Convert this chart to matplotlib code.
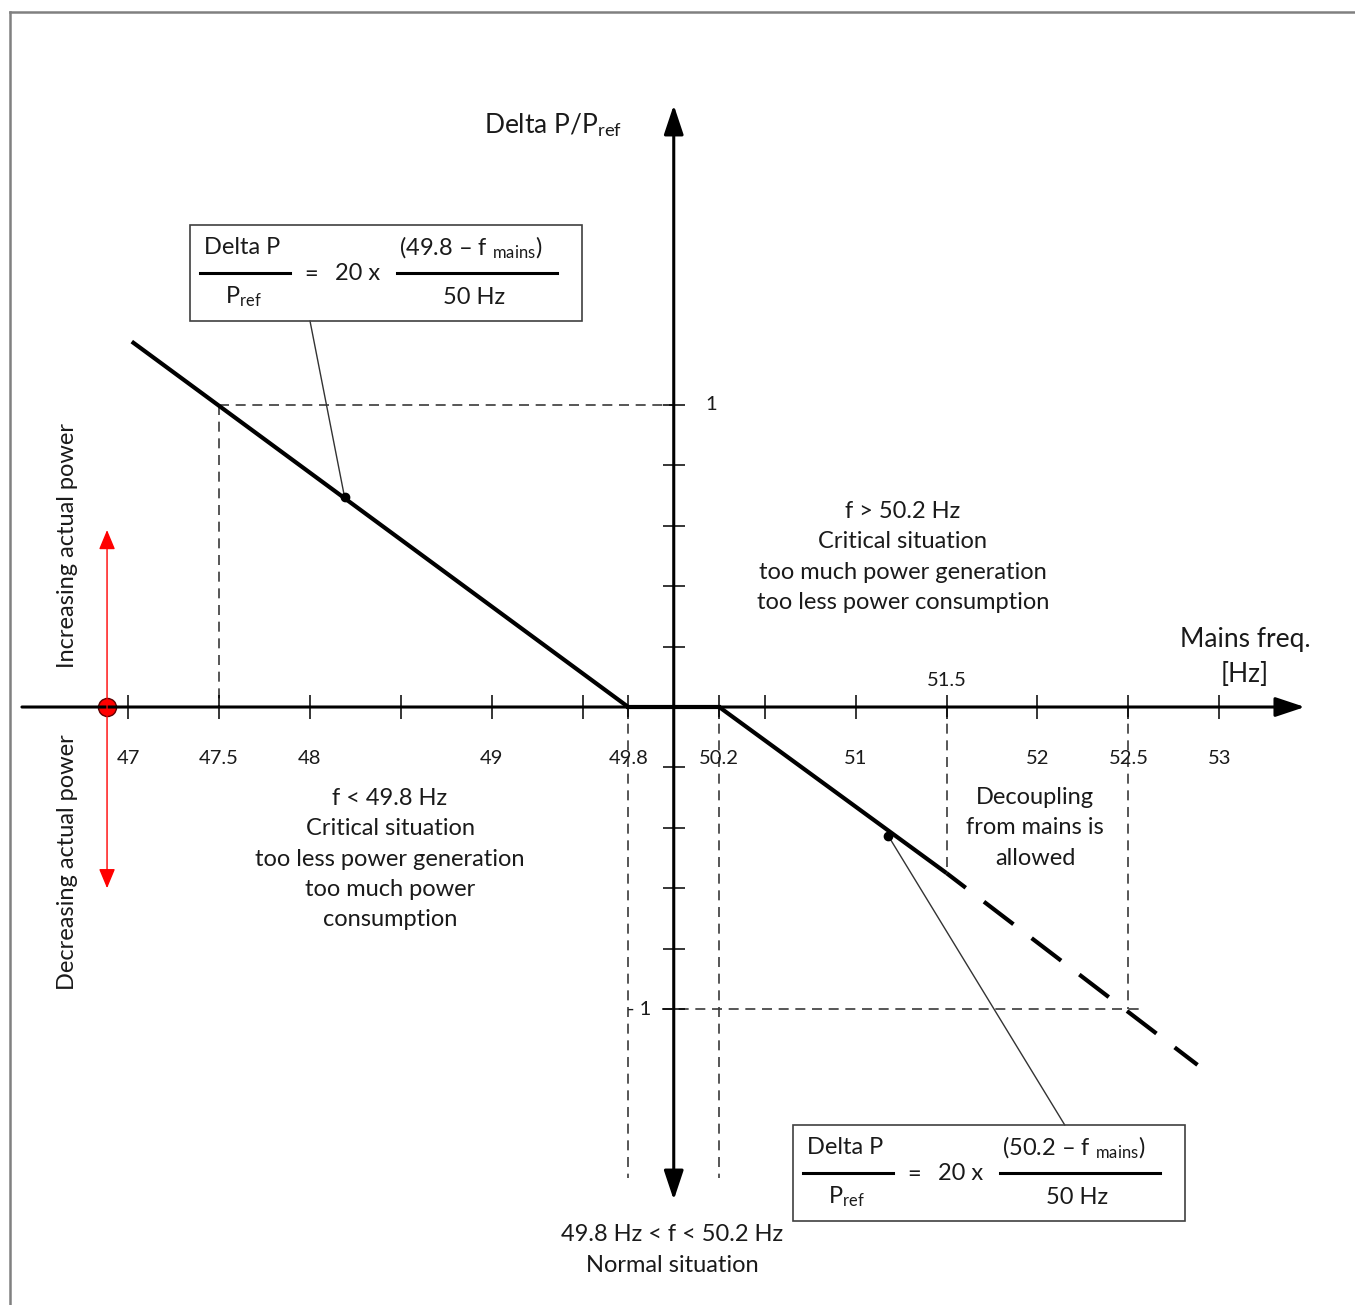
import numpy as np
import matplotlib
matplotlib.use('Agg')
import matplotlib.pyplot as plt
from matplotlib.lines import Line2D
from matplotlib.patches import Rectangle

plt.rcParams['font.family'] = ['Lato', 'DejaVu Sans']
plt.rcParams['mathtext.fontset'] = 'custom'
plt.rcParams['mathtext.rm'] = 'Lato'
plt.rcParams['mathtext.it'] = 'Lato:italic'

# characteristic: mains frequency [Hz] -> Delta P / P_ref
f_under = [47.02, 49.8]
p_under = [1.21, 0.0]
f_normal = [49.8, 50.2]
p_normal = [0.0, 0.0]
f_over = [50.2, 51.5]
p_over = [0.0, -0.55]
f_decouple = [51.5, 52.88]
p_decouple = [-0.55, -1.185]

# points that the formula boxes point at
dot_f = [48.19, 51.18]
dot_p = [0.695, -0.427]
callout_f = [48.0, 52.15]
callout_p = [1.278, -1.384]

# axis ticks
xtick_pos = [47, 47.5, 48, 48.5, 49, 49.5, 49.8, 50.2, 50.5, 51, 51.5, 52, 52.5, 53]
xtick_lab_below = [47, 47.5, 48, 49, 49.8, 50.2, 51, 52, 52.5, 53]
xtick_lab_above = [51.5]
ytick_pos = [-1, -0.8, -0.6, -0.4, -0.2, 0.2, 0.4, 0.6, 0.8, 1]

# dashed guide lines (f0, f1), (p0, p1)
guide_f = [(47.5, 50.0), (47.5, 47.5), (49.8, 49.8), (50.2, 50.2),
           (51.5, 51.5), (52.5, 52.5), (49.95, 52.57)]
guide_p = [(1, 1), (1, 0), (0, -1.56), (0, -1.56),
           (0, -0.55), (0, -1.0), (-1, -1)]

# the drawing stretches the band 49.5 .. 50.5 Hz a little
knots_f = [40, 49.5, 49.8, 50, 50.2, 50.5, 60]
knots_u = [40, 49.5, 49.75, 50, 50.25, 50.5, 60]

W, H = 1355, 1305
fig = plt.figure(figsize=(W / 100, H / 100), dpi=100)
ax = fig.add_axes([0, 0, 1, 1])
ax.set_xscale('function', functions=(lambda f: np.interp(f, knots_f, knots_u),
                                     lambda u: np.interp(u, knots_u, knots_f)))
ax.set_xlim(46.2954, 53.7459)
ax.set_ylim(-1.980, 2.341)
ax.axis('off')

txt = '#1a1a1a'
fs = 17
ls_txt = 1.55


def px(x, y):
    return x / W, 1 - y / H


# screenshot frame
fig.add_artist(Line2D([10 / W, 1], [1 - 12 / H] * 2, transform=fig.transFigure, color='#808080', lw=1.8))
fig.add_artist(Line2D([10 / W] * 2, [0, 1 - 12 / H], transform=fig.transFigure, color='#808080', lw=1.8))

# guides
for gf, gp in zip(guide_f, guide_p):
    ax.plot(gf, gp, color='#3a3a3a', lw=1.2, ls=(0, (6, 4)))

# axes with arrows
ax.annotate('', xy=(53.47, 0), xytext=(46.416, 0),
            arrowprops=dict(arrowstyle='-|>,head_length=0.6,head_width=0.2', mutation_scale=30,
                            lw=2.2, color='black', shrinkA=0, shrinkB=0))
ax.annotate('', xy=(50, 1.993), xytext=(50, -1.632),
            arrowprops=dict(arrowstyle='<|-|>,head_length=0.6,head_width=0.2', mutation_scale=30,
                            lw=2.2, color='black', shrinkA=0, shrinkB=0))

ax.plot(xtick_pos, np.zeros(len(xtick_pos)), ls='none', marker='|', ms=17, mew=1.1, color='black')
ax.plot(np.full(len(ytick_pos), 50.0), ytick_pos, ls='none', marker='_', ms=16, mew=1.1, color='black')

for v in xtick_lab_below:
    ax.text(v, -0.169, f'{v:g}', ha='center', va='center', fontsize=14.5, color=txt)
for v in xtick_lab_above:
    ax.text(v, 0.089, f'{v:g}', ha='center', va='center', fontsize=14.5, color=txt)
ax.annotate('1', xy=(50, 1), xytext=(37, 0), textcoords='offset pixels',
            ha='center', va='center', fontsize=14.5, color=txt)
ax.annotate('- 1', xy=(50, -1), xytext=(-35, 0), textcoords='offset pixels',
            ha='center', va='center', fontsize=14.5, color=txt)

# characteristic
ax.plot(f_under, p_under, color='black', lw=3, solid_capstyle='butt')
ax.plot(f_normal, p_normal, color='black', lw=3)
ax.plot(f_over, p_over, color='black', lw=3, solid_capstyle='butt')
ax.plot(f_decouple, p_decouple, color='black', lw=3, ls=(3.1, (8.9, 5.5)))

ax.plot(callout_f[:1] + dot_f[:1], callout_p[:1] + dot_p[:1], color='#333333', lw=1)
ax.plot(callout_f[1:] + dot_f[1:], callout_p[1:] + dot_p[1:], color='#333333', lw=1)
ax.plot(dot_f, dot_p, ls='none', marker='o', ms=6, color='black')

# red direction marker
ax.annotate('', xy=(46.884, 0.586), xytext=(46.884, -0.6),
            arrowprops=dict(arrowstyle='<|-|>,head_length=0.6,head_width=0.25', mutation_scale=20,
                            lw=1, color='red', shrinkA=0, shrinkB=0))
ax.plot([46.884], [0], marker='o', ms=13, mfc='red', mec='#600000', mew=1)

# labels
fig.text(*px(553, 125), r'Delta P/P$_{\mathrm{ref}}$', ha='center', va='center', fontsize=19, color=txt)
fig.text(*px(1245, 657), 'Mains freq.\n[Hz]', ha='center', va='center', fontsize=19,
         color=txt, linespacing=1.5)
fig.text(*px(903, 557), 'f > 50.2 Hz\nCritical situation\ntoo much power generation\ntoo less power consumption',
         ha='center', va='center', fontsize=fs, color=txt, linespacing=ls_txt)
fig.text(*px(390, 859), 'f < 49.8 Hz\nCritical situation\ntoo less power generation\ntoo much power\nconsumption',
         ha='center', va='center', fontsize=fs, color=txt, linespacing=ls_txt)
fig.text(*px(1035, 828), 'Decoupling\nfrom mains is\nallowed', ha='center', va='center',
         fontsize=fs, color=txt, linespacing=ls_txt)
fig.text(*px(672, 1250), '49.8 Hz < f < 50.2 Hz\nNormal situation', ha='center', va='center',
         fontsize=fs, color=txt, linespacing=ls_txt)
fig.text(*px(68, 545), 'Increasing actual power', ha='center', va='center', rotation=90,
         fontsize=fs, color=txt)
fig.text(*px(68, 862), 'Decreasing actual power', ha='center', va='center', rotation=90,
         fontsize=fs, color=txt)


def formula_box(x0, y0, f0):
    fig.add_artist(Rectangle(px(x0, y0 + 96), 392 / W, 96 / H, transform=fig.transFigure,
                             fill=False, ec='#404040', lw=1.2))
    for a, b in [(x0 + 10, x0 + 100), (x0 + 207, x0 + 367)]:
        fig.add_artist(Line2D([a / W, b / W], [1 - (y0 + 48) / H] * 2, transform=fig.transFigure,
                              color='black', lw=2.2))
    fig.text(*px(x0 + 52, y0 + 23), 'Delta P', ha='center', va='center', fontsize=fs, color=txt)
    fig.text(*px(x0 + 53, y0 + 72), r'P$_{\mathrm{ref}}$', ha='center', va='center', fontsize=fs, color=txt)
    fig.text(*px(x0 + 121, y0 + 49), '=', ha='center', va='center', fontsize=fs, color=txt)
    fig.text(*px(x0 + 168, y0 + 49), '20 x', ha='center', va='center', fontsize=fs, color=txt)
    fig.text(*px(x0 + 281, y0 + 23), f'({f0} \u2013 f ' + r'$_{\mathrm{mains}}$)', ha='center',
             va='center', fontsize=fs, color=txt)
    fig.text(*px(x0 + 284, y0 + 72), '50 Hz', ha='center', va='center', fontsize=fs, color=txt)


formula_box(190, 225, 49.8)
formula_box(793, 1125, 50.2)

fig.savefig('out.png', dpi=100, facecolor='white')
